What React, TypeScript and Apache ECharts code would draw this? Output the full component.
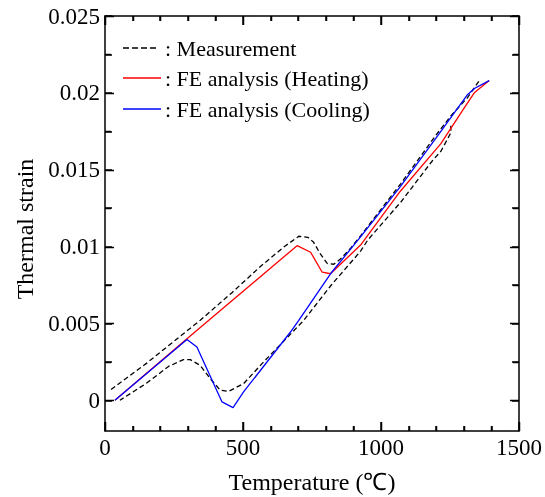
import React, { useEffect, useRef } from "react";
import * as echarts from "echarts";

// Measurement (heating branch): temperature (°C) and thermal strain
const tempHeatMeas = [22, 150, 345, 460, 563, 650, 702, 735, 755, 781, 805, 829, 854, 890, 926, 1072, 1193, 1253, 1314, 1356];
const strainHeatMeas = [0.0007, 0.0024, 0.0052, 0.007, 0.0087, 0.01, 0.01067, 0.0106, 0.0103, 0.0095, 0.0089, 0.00885, 0.0092, 0.0099, 0.0107, 0.0141, 0.0171, 0.0185, 0.0197, 0.0208];

// Measurement (cooling branch)
const tempCoolMeas = [1253, 1253, 1217, 1187, 1072, 951, 926, 820, 720, 672, 575, 502, 448, 418, 381, 345, 309, 284, 230, 150, 54];
const strainCoolMeas = [0.01786, 0.0174, 0.0162, 0.0156, 0.0129, 0.0104, 0.0097, 0.0075, 0.0052, 0.0043, 0.0025, 0.00108, 0.00058, 0.00065, 0.00141, 0.00227, 0.00264, 0.00264, 0.0022, 0.0011, 0];

// FE analysis (Heating)
const tempHeatFE = [36, 297, 696, 745, 787, 817, 926, 1070, 1217, 1301, 1338, 1392];
const strainHeatFE = [0, 0.004, 0.01006, 0.00963, 0.00833, 0.00823, 0.0101, 0.0136, 0.0167, 0.019, 0.02, 0.0208];

// FE analysis (Cooling)
const tempCoolFE = [1392, 1340, 1314, 1205, 1070, 920, 817, 702, 672, 502, 464, 424, 333, 297, 36];
const strainCoolFE = [0.0208, 0.0203, 0.0199, 0.0172, 0.0139, 0.0105, 0.00823, 0.0052, 0.00444, 0.00054, -0.00048, -0.00011, 0.00346, 0.00396, 0];

// Axis ranges, ticks and labels
const X_MIN = 0;
const X_MAX = 1500;
const Y_MIN = -0.002;
const Y_MAX = 0.025;
const xMajorTicks = [0, 500, 1000, 1500];
const xMinorTicks = [100, 200, 300, 400, 600, 700, 800, 900, 1100, 1200, 1300, 1400];
const yLabelValues = [0, 0.005, 0.01, 0.015, 0.02, 0.025];
const yLabelTexts = ["0", "0.005", "0.01", "0.015", "0.02", "0.025"];
const yMinorTicks = [0.0025, 0.0075, 0.0125, 0.0175, 0.0225];
const yAllTicks = [0, 0.0025, 0.005, 0.0075, 0.01, 0.0125, 0.015, 0.0175, 0.02, 0.0225, 0.025];

const legendNames = [": Measurement", ": FE analysis (Heating)", ": FE analysis (Cooling)"];

function pairs(xs: number[], ys: number[]) {
  return xs.map((x, i) => [x, ys[i]]);
}

export default function App() {
  const ref = useRef<HTMLDivElement>(null);
  useEffect(() => {
    if (!ref.current) return;
    const chart = echarts.init(ref.current, undefined, { renderer: "svg" });
    const legendRowsY = [48, 78, 109];
    const legendColors = ["#000", "#ff0000", "#0000ff"];
    const graphics: any[] = [];
    legendNames.forEach((name, i) => {
      graphics.push({
        type: "line",
        shape: { x1: 123, y1: legendRowsY[i], x2: i === 0 ? 158 : 161, y2: legendRowsY[i] },
        style: { stroke: legendColors[i], lineWidth: 1.3, lineDash: i === 0 ? [6, 3] : null },
      });
      graphics.push({
        type: "text",
        x: 165,
        y: legendRowsY[i],
        style: {
          text: name,
          fontSize: 22,
          fontFamily: "Liberation Serif",
          fill: "#000",
          textAlign: "left",
          textVerticalAlign: "middle",
        },
      });
    });
    graphics.push({
      type: "text",
      x: 25,
      y: 229,
      rotation: Math.PI / 2,
      style: {
        text: "Thermal strain",
        fontSize: 24,
        fontFamily: "Liberation Serif",
        fill: "#000",
        textAlign: "center",
        textVerticalAlign: "middle",
      },
    });
    graphics.push({
      type: "text",
      x: 312,
      y: 482,
      style: {
        text: "Temperature (℃)",
        fontSize: 24,
        fontFamily: "Liberation Serif",
        fill: "#000",
        textAlign: "center",
        textVerticalAlign: "middle",
      },
    });

    // tick marks placed through the axes' own scales (kind: 0 x-major, 1 x-minor, 2 y-major, 3 y-minor)
    const tickData: number[][] = [
      ...xMajorTicks.map((v) => [v, 0, 0]),
      ...xMinorTicks.map((v) => [v, 0, 1]),
      ...yLabelValues.map((v) => [0, v, 2]),
      ...yMinorTicks.map((v) => [0, v, 3]),
    ];
    const tickLine = (x1: number, y1: number, x2: number, y2: number) => ({
      type: "line",
      shape: { x1, y1, x2, y2 },
      style: { stroke: "#000", lineWidth: 1.5 },
    });
    const renderTick = (_params: any, api: any) => {
      const kind = api.value(2);
      if (kind < 2) {
        const x = Math.round(api.coord([api.value(0), Y_MIN])[0]) + 0.5;
        const b = api.coord([api.value(0), Y_MIN]);
        const t = api.coord([api.value(0), Y_MAX]);
        const len = kind === 0 ? 9 : 5;
        return {
          type: "group",
          children: [tickLine(x, b[1], x, b[1] - len), tickLine(x, t[1], x, t[1] + len)],
        };
      }
      const l = api.coord([X_MIN, api.value(1)]);
      const r = api.coord([X_MAX, api.value(1)]);
      const y = Math.round(l[1]) + 0.5;
      const len = kind === 2 ? 9 : 6;
      return {
        type: "group",
        children: [tickLine(l[0], y, l[0] + len, y), tickLine(r[0], y, r[0] - len, y)],
      };
    };

    const tickStyle = { color: "#000", width: 1.5 };
    const yAxisOf = (pos: "left" | "right", labels: boolean) => ({
      type: "value" as const, min: Y_MIN, max: Y_MAX, position: pos,
      axisLine: { show: true, onZero: false, lineStyle: { color: "#000", width: 1.5 } },
      axisTick: { show: true, inside: true, length: 7, customValues: yAllTicks, lineStyle: { ...tickStyle } },
      axisLabel: labels
        ? {
            customValues: yLabelValues,
            formatter: (v: number) => {
              const idx = yLabelValues.findIndex((t) => Math.abs(t - v) < 1e-9);
              return idx >= 0 ? yLabelTexts[idx] : "";
            },
            fontFamily: "Liberation Serif", fontSize: 23, color: "#000", margin: 5,
          }
        : { show: false },
      splitLine: { show: false },
    });
    const xAxisOf = (pos: "bottom" | "top", labels: boolean) => ({
      type: "value" as const, min: X_MIN, max: X_MAX, interval: 500, position: pos,
      axisLine: { show: true, onZero: false, lineStyle: { color: "#000", width: 1.5 } },
      axisTick: { show: true, inside: true, length: 9, lineStyle: { ...tickStyle } },
      minorTick: { show: true, splitNumber: 5, length: 5, lineStyle: { ...tickStyle } },
      axisLabel: labels
        ? {
            fontFamily: "Liberation Serif", fontSize: 23, color: "#000", margin: 5,
            formatter: (v: number) => String(v),
          }
        : { show: false },
      splitLine: { show: false },
    });

    chart.setOption({
      animation: false,
      grid: { left: 105, right: 26, top: 16, bottom: 66 },
      xAxis: [xAxisOf("bottom", true), xAxisOf("top", false)],
      yAxis: [yAxisOf("left", true), yAxisOf("right", false)],
      series: [
        {
          type: "line", symbol: "none",
          data: pairs(tempHeatMeas, strainHeatMeas),
          lineStyle: { color: "#000", width: 1.3, type: [5, 3] },
        },
        {
          type: "line", symbol: "none",
          data: pairs(tempCoolMeas, strainCoolMeas),
          lineStyle: { color: "#000", width: 1.3, type: [5, 3] },
        },
        {
          type: "line", symbol: "none",
          data: pairs(tempHeatFE, strainHeatFE),
          lineStyle: { color: "#ff0000", width: 1.3 },
        },
        {
          type: "line", symbol: "none",
          data: pairs(tempCoolFE, strainCoolFE),
          lineStyle: { color: "#0000ff", width: 1.3 },
        },
        {
          type: "custom",
          silent: true,
          clip: false,
          z: 5,
          data: tickData,
          renderItem: renderTick,
        },
      ],
      graphic: graphics,
    });
    return () => chart.dispose();
  }, []);
  return <div ref={ref} style={{ position: "fixed", left: 0, top: 0, width: 545, height: 497 }} />;
}
